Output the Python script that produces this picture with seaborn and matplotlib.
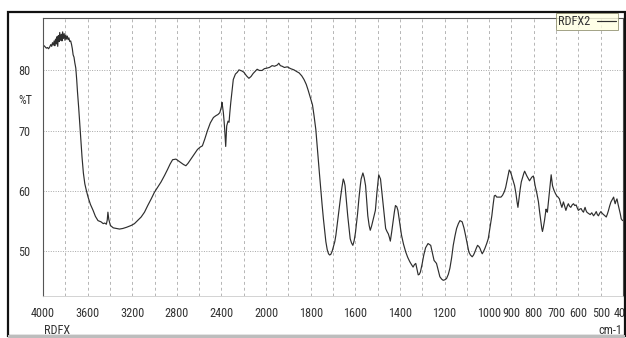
import numpy as np
import pandas as pd
import matplotlib
matplotlib.use("Agg")
import matplotlib.pyplot as plt
import seaborn as sns
from matplotlib.patches import Rectangle
from matplotlib.ticker import FixedLocator, FixedFormatter
import matplotlib.transforms as mtransforms
from matplotlib import font_manager

# ---------------- data ----------------
wavenumber = [
    4000, 3990, 3980, 3970, 3960, 3950, 3940, 3930, 3922, 3915, 3908, 3900, 3894, 3888, 3880, 3874,
    3868, 3862, 3855, 3850, 3843, 3836, 3830, 3824, 3817, 3810, 3803, 3796, 3790, 3782, 3775, 3768,
    3760, 3752, 3744, 3737, 3730, 3722, 3715, 3706, 3698, 3691, 3680, 3670, 3660, 3650, 3638, 3625,
    3610, 3596, 3575, 3551, 3530, 3507, 3480, 3460, 3447, 3432, 3424, 3418, 3410, 3396, 3370, 3343,
    3314, 3284, 3250, 3209, 3180, 3141, 3120, 3090, 3061, 3030, 3001, 2970, 2942, 2910, 2883, 2860,
    2838, 2808, 2785, 2763, 2740, 2719, 2700, 2674, 2645, 2615, 2590, 2571, 2550, 2526, 2500, 2472,
    2450, 2431, 2415, 2407, 2400, 2395, 2390, 2383, 2376, 2371, 2366, 2362, 2358, 2353, 2346, 2341,
    2332, 2325, 2317, 2305, 2294, 2275, 2258, 2243, 2228, 2215, 2199, 2175, 2154, 2135, 2116, 2095,
    2080, 2060, 2036, 2015, 1995, 1985, 1973, 1962, 1950, 1943, 1936, 1928, 1918, 1905, 1890, 1875,
    1862, 1852, 1840, 1830, 1820, 1812, 1800, 1792, 1785, 1777, 1772, 1767, 1761, 1755, 1749, 1743,
    1737, 1732, 1726, 1720, 1715, 1710, 1704, 1698, 1692, 1687, 1680, 1672, 1666, 1660, 1654, 1650,
    1646, 1640, 1634, 1628, 1623, 1617, 1611, 1605, 1599, 1590, 1584, 1578, 1574, 1566, 1560, 1554,
    1549, 1544, 1538, 1533, 1527, 1521, 1515, 1510, 1503, 1495, 1487, 1482, 1476, 1470, 1464, 1458,
    1452, 1447, 1443, 1437, 1431, 1425, 1420, 1414, 1409, 1400, 1393, 1384, 1374, 1365, 1356, 1348,
    1341, 1335, 1329, 1323, 1318, 1313, 1308, 1300, 1293, 1285, 1274, 1262, 1255, 1247, 1236, 1228,
    1221, 1213, 1206, 1198, 1191, 1183, 1176, 1168, 1161, 1153, 1146, 1138, 1131, 1121, 1113, 1106,
    1098, 1091, 1084, 1076, 1070, 1064, 1058, 1052, 1046, 1041, 1036, 1031, 1025, 1019, 1011, 1004,
    996, 988, 982, 977, 972, 966, 957, 947, 940, 932, 926, 921, 915, 910, 905, 901,
    893, 886, 880, 875, 871, 866, 861, 856, 850, 845, 841, 836, 831, 825, 819, 814,
    809, 802, 798, 794, 786, 779, 774, 768, 764, 761, 757, 752, 748, 745, 742, 739,
    735, 730, 726, 722, 719, 716, 712, 709, 703, 697, 691, 685, 680, 674, 670, 667,
    661, 656, 650, 645, 640, 634, 628, 622, 616, 610, 605, 600, 594, 588, 582, 577,
    573, 570, 566, 562, 555, 547, 540, 532, 526, 520, 515, 510, 505, 499, 493, 487,
    481, 475, 470, 465, 460, 454, 448, 442, 438, 435, 431, 427, 422, 417, 412, 408,
    402,
]
transmittance = [
    84.0, 84.1, 83.9, 83.7, 83.8, 83.6, 83.9, 84.3, 84.0, 84.6, 84.2, 84.9, 84.1, 85.2, 84.4, 85.6,
    84.0, 85.8, 84.8, 86.3, 85.0, 86.0, 84.9, 86.4, 85.3, 86.1, 85.0, 85.9, 85.2, 85.7, 85.1, 85.4,
    84.8, 84.9, 84.3, 83.6, 82.6, 82.2, 81.3, 80.4, 78.5, 76.5, 73.8, 71.1, 68.3, 65.6, 63.0, 61.2,
    60.0, 59.0, 57.8, 56.8, 55.8, 55.1, 54.9, 54.6, 54.7, 54.5, 55.2, 56.5, 55.3, 54.3, 53.9, 53.8,
    53.7, 53.8, 54.0, 54.3, 54.6, 55.3, 55.7, 56.5, 57.6, 58.7, 59.8, 60.7, 61.5, 62.6, 63.6, 64.5,
    65.2, 65.3, 65.0, 64.7, 64.4, 64.2, 64.6, 65.3, 66.1, 66.9, 67.3, 67.5, 68.6, 70.0, 71.3, 72.2,
    72.5, 72.7, 73.0, 73.5, 74.0, 74.7, 74.0, 73.0, 71.5, 70.2, 68.5, 67.4, 69.0, 70.8, 71.3, 71.6,
    71.4, 73.0, 74.6, 76.7, 78.5, 79.4, 79.7, 80.1, 80.0, 79.9, 79.7, 79.1, 78.7, 79.0, 79.5, 79.9,
    80.2, 80.0, 80.0, 80.3, 80.4, 80.5, 80.8, 80.7, 80.9, 81.2, 80.8, 80.7, 80.5, 80.6, 80.3, 80.1,
    79.8, 79.6, 79.1, 78.5, 77.7, 76.8, 75.3, 74.3, 72.5, 70.2, 68.0, 65.8, 63.0, 60.3, 57.8, 55.4,
    53.4, 51.6, 50.3, 49.6, 49.4, 49.5, 50.0, 50.8, 51.6, 52.7, 54.8, 57.1, 59.0, 60.6, 62.0, 61.6,
    60.9, 58.4, 55.9, 53.8, 52.1, 51.4, 51.0, 51.8, 53.2, 56.2, 58.7, 60.8, 62.0, 63.0, 62.2, 60.9,
    58.5, 55.9, 54.3, 53.5, 54.2, 55.1, 56.0, 56.8, 59.8, 62.7, 62.0, 60.2, 58.2, 55.8, 53.8, 53.3,
    52.9, 52.3, 51.7, 53.2, 54.9, 56.5, 57.6, 57.4, 56.8, 54.5, 52.7, 51.2, 49.9, 49.0, 48.3, 47.8,
    47.4, 47.8, 48.0, 47.0, 46.1, 46.2, 46.6, 48.0, 49.4, 50.6, 51.3, 51.0, 49.8, 48.5, 48.0, 46.8,
    45.8, 45.4, 45.2, 45.3, 45.5, 46.2, 47.2, 49.0, 51.0, 52.6, 53.8, 54.6, 55.1, 54.9, 53.9, 52.7,
    51.2, 49.9, 49.4, 49.1, 49.4, 49.9, 50.5, 51.0, 50.8, 50.5, 50.0, 49.6, 50.0, 50.5, 51.3, 52.1,
    54.0, 55.9, 57.8, 59.2, 59.3, 59.0, 59.0, 59.0, 59.3, 59.9, 60.6, 61.5, 62.6, 63.5, 63.2, 62.8,
    61.8, 60.9, 59.6, 58.2, 57.3, 58.8, 60.3, 61.5, 62.3, 62.9, 63.3, 62.9, 62.5, 62.1, 61.7, 62.0,
    62.3, 62.5, 61.8, 60.9, 59.6, 58.2, 56.6, 54.9, 53.8, 53.3, 54.0, 55.1, 56.2, 57.0, 56.7, 56.5,
    58.0, 59.8, 61.3, 62.7, 61.8, 60.9, 60.4, 60.1, 59.6, 59.2, 59.0, 58.7, 58.0, 57.3, 57.8, 58.2,
    57.4, 56.8, 57.5, 57.9, 57.5, 57.3, 57.7, 57.9, 57.6, 57.7, 57.2, 56.8, 57.0, 57.1, 56.7, 56.5,
    57.0, 57.3, 56.8, 56.5, 56.3, 56.1, 56.4, 55.9, 56.2, 56.6, 56.1, 55.9, 56.3, 56.6, 56.3, 56.1,
    55.9, 55.7, 56.2, 56.8, 57.5, 58.2, 58.6, 59.0, 58.3, 57.9, 58.4, 58.7, 57.8, 57.0, 56.2, 55.4,
    55.1,
]
series_name = "RDFX2"
x_grid = [4000, 3800, 3600, 3400, 3200, 3000, 2800, 2600, 2400, 2200, 2000, 1900, 1800, 1700,
          1600, 1500, 1400, 1300, 1200, 1100, 1000, 900, 800, 700, 600, 500, 400]
x_labeled = [4000, 3600, 3200, 2800, 2400, 2000, 1800, 1600, 1400, 1200, 1000, 900, 800, 700,
             600, 500, 400]
y_major = [50, 60, 70, 80]

df = pd.DataFrame({"wavenumber": wavenumber, "T": transmittance, "series": series_name})

# ---------------- figure ----------------
W, H = 626, 338
fig = plt.figure(figsize=(W / 100, H / 100), dpi=100)
sns.set_style("white")

# prefer a narrow face if one is installed
names = {f.name for f in font_manager.fontManager.ttflist}
narrow = [n for n in ["Liberation Sans Narrow", "DejaVu Sans Condensed", "Roboto Condensed",
                      "Open Sans Condensed"] if n in names]
plt.rcParams["font.family"] = narrow + ["Liberation Sans", "DejaVu Sans"]
FS = 8.8 if narrow else 7.3

L, R, T_, B = 43, 623, 18, 296
ax = fig.add_axes([L / W, 1 - B / H, (R - L) / W, (B - T_) / H])

def fwd(x):
    x = np.asarray(x, dtype=float)
    return np.where(x >= 2000, 2000 + (x - 2000) / 2.0, x)

def inv(u):
    u = np.asarray(u, dtype=float)
    return np.where(u >= 2000, 2000 + 2.0 * (u - 2000), u)

ax.set_xscale("function", functions=(fwd, inv))

sns.lineplot(data=df, x="wavenumber", y="T", hue="series", palette=["#2e2e2e"],
             sort=False, estimator=None, lw=0.85, ax=ax, legend=True)

ax.set_xlim(4000, 400)
ax.set_ylim(42.6, 88.7)

# x ticks / grid
ax.xaxis.set_major_locator(FixedLocator(x_grid))
ax.xaxis.set_major_formatter(FixedFormatter([str(v) if v in x_labeled else "" for v in x_grid]))
minor = []
for a, b in zip(x_grid[:-1], x_grid[1:]):
    step = (a - b) / 5
    minor += [a - step * k for k in range(1, 5)]
ax.xaxis.set_minor_locator(FixedLocator(minor))
ax.tick_params(axis="x", which="major", direction="out", length=3, width=0.6, color="#777777",
               pad=5, labelsize=FS, labelcolor="#333333")
ax.tick_params(axis="x", which="minor", direction="out", length=1.5, width=0.5, color="#999999")
ax.grid(axis="x", which="major", color="#b5b5b5", linestyle=(0, (3, 3)), linewidth=0.7)

# y ticks / grid
ax.yaxis.set_major_locator(FixedLocator(y_major))
ax.yaxis.set_minor_locator(FixedLocator(list(range(44, 89, 2))))
ax.tick_params(axis="y", which="major", direction="out", length=8, width=0.7, color="#555555",
               pad=1, labelsize=FS, labelcolor="#333333")
ax.tick_params(axis="y", which="minor", direction="out", length=3.5, width=0.7, color="#555555")
ax.grid(axis="y", which="major", color="#a8a8a8", linestyle=(0, (1, 1.5)), linewidth=0.7)

ax.set_xlabel("")
ax.set_ylabel("")

for side in ["left", "top", "right"]:
    ax.spines[side].set_color("#555555")
    ax.spines[side].set_linewidth(0.8)
ax.spines["bottom"].set_color("#cccccc")
ax.spines["bottom"].set_linewidth(0.6)

# %T label on the y axis
trans = mtransforms.blended_transform_factory(ax.transAxes, ax.transData)
ax.text(-11 / (R - L), 75, "%T", transform=trans, ha="right", va="center",
        fontsize=FS, color="#333333")

# bottom captions
fig.text(44 / W, 1 - 331 / H, "RDFX", ha="left", va="center", fontsize=FS, color="#333333")
fig.text(622 / W, 1 - 331 / H, "cm-1", ha="right", va="center", fontsize=FS, color="#333333")

# legend
handles, labels = ax.get_legend_handles_labels()
leg = ax.legend(handles, labels, loc="upper right", bbox_to_anchor=(618 / W, 1 - 13 / H),
                bbox_transform=fig.transFigure, markerfirst=False, frameon=True,
                fancybox=False, fontsize=FS, handlelength=1.6, handletextpad=0.5,
                borderpad=0.15, borderaxespad=0)
leg.get_frame().set_facecolor("#ffffe1")
leg.get_frame().set_edgecolor("#8a8a6a")
leg.get_frame().set_linewidth(0.7)
for t in leg.get_texts():
    t.set_color("#333333")

# outer frame of the window
fig.patches.append(Rectangle((8 / W, 1 - 336 / H), (625 - 8) / W, (336 - 12) / H,
                             transform=fig.transFigure, fill=False, edgecolor="#111111",
                             linewidth=1.6))
fig.patches.append(Rectangle((8 / W, 0), (625 - 8) / W, 3 / H, transform=fig.transFigure,
                             facecolor="#bdbdbd", edgecolor="none"))

fig.savefig("out.png", dpi=100)
